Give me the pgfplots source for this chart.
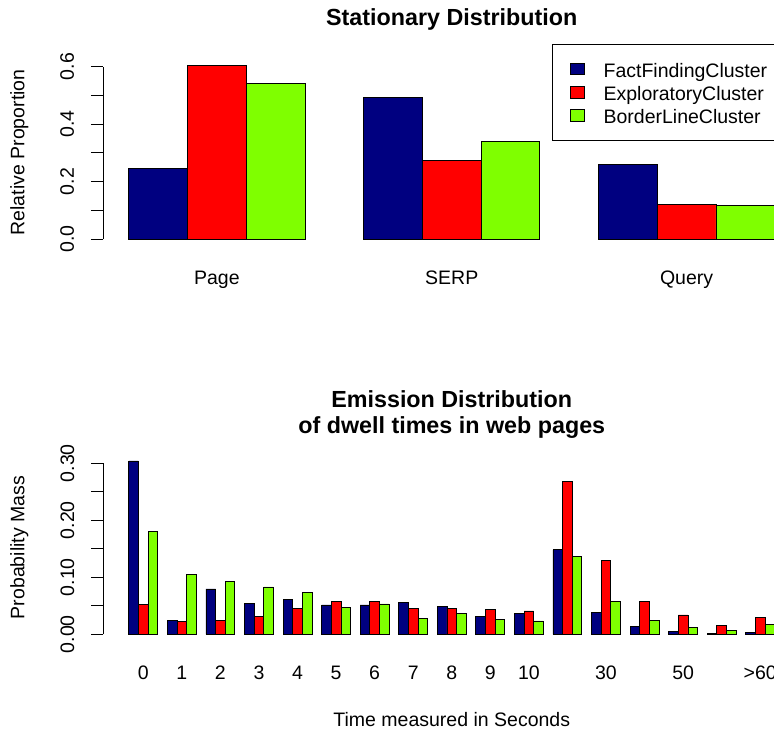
\documentclass[border=0pt]{standalone}
\usepackage{pgfplots}
\usepackage{pgfplotstable}
\pgfplotsset{compat=1.18}
\usepackage{fontspec}
\setmainfont{Liberation Sans}

\definecolor{rnavy}{RGB}{0,0,128}
\definecolor{rred}{RGB}{255,0,0}
\definecolor{rgreen}{RGB}{127,255,0}

\pgfplotstableread{
x a b c
2.5 0.246 0.603 0.542
6.5 0.492 0.275 0.339
10.5 0.261 0.119 0.116
}\stationary

\pgfplotstableread{
x a b c
2.5 0.304 0.053 0.181
6.5 0.0246 0.0228 0.1046
10.5 0.0795 0.025 0.093
14.5 0.0537 0.0316 0.083
18.5 0.0614 0.045 0.0737
22.5 0.0514 0.0572 0.0467
26.5 0.0514 0.0572 0.0532
30.5 0.0561 0.0456 0.0274
34.5 0.0485 0.045 0.0362
38.5 0.0316 0.0439 0.0257
42.5 0.0362 0.0409 0.0234
46.5 0.148 0.268 0.1357
50.5 0.038 0.130 0.058
54.5 0.0134 0.0572 0.025
58.5 0.0053 0.0339 0.0123
62.5 0.001 0.0158 0.007
66.5 0.003 0.0298 0.018
}\emission

\pgfplotsset{
  rstyle/.style={
    scale only axis, width=697.5pt, clip=false,
    axis line style={draw=none},
    tick align=outside, major tick length=12pt,
    ytick pos=left, xtick pos=bottom,
    xtick style={draw=none},
    ytick style={draw=black, line width=0.8pt},
    font=\fontsize{19.5}{23.4}\selectfont,
    /pgf/number format/assume math mode=true,
    yticklabel style={xshift=-17pt, rotate=90, anchor=base},
    xticklabel style={anchor=base, yshift=-26.4pt},
    ylabel style={at={(axis description cs:-0.1201,0.5)}, anchor=center},
    title style={font=\fontsize{23.3}{26.3}\selectfont\bfseries, yshift=-6pt},
  },
  rbar/.style={ybar, bar width=#1, draw=black, line width=0.8pt,
    legend image code/.code={\draw[##1, draw=black, line width=0.8pt] (0pt,2.4pt) rectangle (14.7pt,14pt);}},
}

\begin{document}
\begin{tikzpicture}
\begin{axis}[rstyle,
  at={(103pt,485.1pt)}, anchor=south west, height=187pt,
  xmin=0.56, xmax=12.44, ymin=-0.024, ymax=0.627,
  xtick={2.5,6.5,10.5}, xticklabels={Page,SERP,Query},
  ytick={0,0.1,0.2,0.3,0.4,0.5,0.6}, yticklabels={0.0,,0.2,,0.4,,0.6},
  ylabel={Relative Proportion},
  title={Stationary Distribution},
  title style={at={(axis description cs:0.5,1.1775)}, anchor=base},
  legend style={at={(axis description cs:0.6433,1.0797)}, anchor=north west,
    draw=black, line width=0.8pt, inner xsep=17.5pt, inner ysep=13.9pt,
    /tikz/row sep=1.7pt, /tikz/column sep=18.5pt,
    nodes={inner sep=0pt, text height=18.8pt, text depth=2.8pt},
    cells={anchor=base west, inner sep=0pt},
    font=\fontsize{19.5}{23.4}\selectfont},
]
\addplot[rbar=58.71pt, bar shift=-58.71pt, fill=rnavy] table[x=x,y=a]{\stationary};
\addlegendentry{\makebox[200pt][l]{FactFindingCluster}}
\addplot[rbar=58.71pt, bar shift=0pt, fill=rred] table[x=x,y=b]{\stationary};
\addlegendentry{\makebox[200pt][l]{ExploratoryCluster}}
\addplot[rbar=58.71pt, bar shift=58.71pt, fill=rgreen] table[x=x,y=c]{\stationary};
\addlegendentry{\makebox[200pt][l]{BorderLineCluster}}
\draw[line width=0.8pt] (axis cs:0.56,0) -- (axis cs:0.56,0.6);
\end{axis}

\begin{axis}[rstyle,
  at={(103pt,89.8pt)}, anchor=south west, height=187.2pt,
  xmin=-1.68, xmax=70.68, ymin=-0.01216, ymax=0.31616,
  xtick={2.5,6.5,10.5,14.5,18.5,22.5,26.5,30.5,34.5,38.5,42.5,46.5,50.5,54.5,58.5,62.5,66.5},
  xticklabels={0,1,2,3,4,5,6,7,8,9,10,,30,,50,,>60},
  ytick={0,0.05,0.1,0.15,0.2,0.25,0.3}, yticklabels={0.00,,0.10,,0.20,,0.30},
  ylabel={Probability Mass},
  xlabel={Time measured in Seconds},
  xlabel style={at={(axis description cs:0.5,-0.4567)}, anchor=base},
  title={Emission Distribution\\of dwell times in web pages},
  title style={at={(axis description cs:0.5,1.0817)}, anchor=south, align=center, inner sep=0pt},
]
\addplot[rbar=9.639pt, bar shift=-9.639pt, fill=rnavy] table[x=x,y=a]{\emission};
\addplot[rbar=9.639pt, bar shift=0pt, fill=rred] table[x=x,y=b]{\emission};
\addplot[rbar=9.639pt, bar shift=9.639pt, fill=rgreen] table[x=x,y=c]{\emission};
\draw[line width=0.8pt] (axis cs:-1.68,0) -- (axis cs:-1.68,0.3);
\end{axis}
\pgfresetboundingbox
\useasboundingbox (0pt,0pt) rectangle (774pt,731pt);
\end{tikzpicture}
\end{document}
